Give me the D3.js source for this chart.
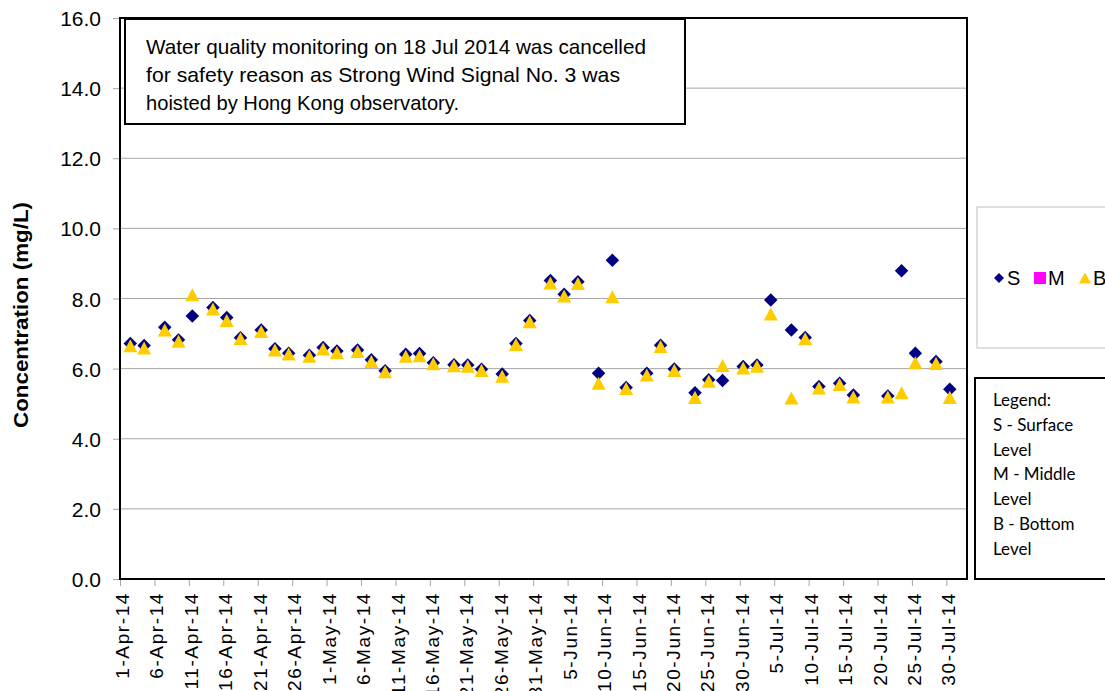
<!DOCTYPE html>
<html>
<head>
<meta charset="utf-8">
<script src="https://cdn.jsdelivr.net/npm/d3@7"></script>
<style>
  body { margin: 0; background: #fff; }
  svg { display: block; overflow: hidden; }
  text { font-family: "Liberation Sans", Arial, sans-serif; fill: #000; }
</style>
</head>
<body>
<svg id="chart" width="1105" height="691"></svg>
<script>
// sampling days (Mon / Wed / Fri), 18 Jul cancelled
var sampleDates = [
  "2014-04-02","2014-04-04","2014-04-07","2014-04-09","2014-04-11","2014-04-14","2014-04-16",
  "2014-04-18","2014-04-21","2014-04-23","2014-04-25","2014-04-28","2014-04-30",
  "2014-05-02","2014-05-05","2014-05-07","2014-05-09","2014-05-12","2014-05-14","2014-05-16",
  "2014-05-19","2014-05-21","2014-05-23","2014-05-26","2014-05-28","2014-05-30",
  "2014-06-02","2014-06-04","2014-06-06","2014-06-09","2014-06-11","2014-06-13","2014-06-16",
  "2014-06-18","2014-06-20","2014-06-23","2014-06-25","2014-06-27","2014-06-30",
  "2014-07-02","2014-07-04","2014-07-07","2014-07-09","2014-07-11","2014-07-14","2014-07-16",
  "2014-07-21","2014-07-23","2014-07-25","2014-07-28","2014-07-30"
];

// S - surface level
var surface = [
  6.72, 6.66, 7.18, 6.82, 7.50, 7.74, 7.46, 6.88, 7.10, 6.57, 6.44, 6.38, 6.60,
  6.50, 6.53, 6.25, 5.94, 6.41, 6.43, 6.17, 6.11, 6.10, 5.98, 5.85, 6.72, 7.37,
  8.51, 8.12, 8.48, 5.87, 9.09, 5.46, 5.87, 6.67, 5.99, 5.31, 5.68, 5.66, 6.06,
  6.10, 7.96, 7.10, 6.89, 5.49, 5.58, 5.25, 5.22, 8.79, 6.44, 6.20, 5.41
];

// M - middle level (no readings)
var middle = [];

// B - bottom level
var bottom = [
  6.65, 6.59, 7.10, 6.78, 8.11, 7.70, 7.37, 6.86, 7.06, 6.53, 6.42, 6.35, 6.56,
  6.46, 6.49, 6.20, 5.91, 6.35, 6.37, 6.14, 6.08, 6.07, 5.95, 5.78, 6.69, 7.34,
  8.44, 8.07, 8.43, 5.58, 8.05, 5.43, 5.82, 6.63, 5.95, 5.18, 5.64, 6.09, 6.02,
  6.07, 7.56, 5.16, 6.85, 5.45, 5.55, 5.19, 5.19, 5.31, 6.17, 6.15, 5.18
];

var xTickLabels = [
  "1-Apr-14","6-Apr-14","11-Apr-14","16-Apr-14","21-Apr-14","26-Apr-14",
  "1-May-14","6-May-14","11-May-14","16-May-14","21-May-14","26-May-14","31-May-14",
  "5-Jun-14","10-Jun-14","15-Jun-14","20-Jun-14","25-Jun-14","30-Jun-14",
  "5-Jul-14","10-Jul-14","15-Jul-14","20-Jul-14","25-Jul-14","30-Jul-14"
];
var yTicks = [0, 2, 4, 6, 8, 10, 12, 14, 16];

var noteLines = [
  "Water quality monitoring on 18 Jul 2014 was cancelled",
  "for safety reason as Strong Wind Signal No. 3 was",
  "hoisted by Hong Kong observatory."
];
var legendNotes = ["Legend:", "S - Surface", "Level", "M - Middle", "Level", "B - Bottom", "Level"];

var svg = d3.select("#chart");

// %%%%%%%%%%%%%%%%%%%%
// % Scales           %
// %%%%%%%%%%%%%%%%%%%%
var margin = {left: 120, top: 18},
    plotW = 847,
    plotH = 561;

var parseDay = d3.utcParse("%Y-%m-%d");
var parseTick = d3.utcParse("%d-%b-%y");

var x = d3.scaleUtc()
    .domain([Date.UTC(2014, 3, 1), Date.UTC(2014, 7, 2)])   // one slot per day
    .range([0, plotW]);
var y = d3.scaleLinear().domain([0, 16]).range([plotH, 0]);

// points sit in the middle of their day slot
var mid = function (s) { return d3.utcHour.offset(parseDay(s), 12); };

var g = svg.append("g").attr("transform", "translate(" + margin.left + "," + margin.top + ")");

// gridlines
g.append("g")
    .selectAll("line")
    .data(yTicks)
    .enter().append("line")
    .attr("x1", 0).attr("x2", plotW)
    .attr("y1", function (d) { return y(d); })
    .attr("y2", function (d) { return y(d); })
    .style("stroke", "#a6a6a6")
    .style("stroke-width", 1);

// y axis
var yAxis = g.append("g")
    .call(d3.axisLeft(y).tickValues(yTicks).tickFormat(d3.format(".1f")).tickSize(7).tickPadding(12));
yAxis.select(".domain").remove();
yAxis.selectAll("line").style("stroke", "#a6a6a6");
yAxis.selectAll("text").style("font-size", "21px").attr("dy", "0.36em");

// x axis
var xAxis = g.append("g")
    .attr("transform", "translate(0," + plotH + ")")
    .call(d3.axisBottom(x)
        .tickValues(xTickLabels.map(function (s) { return parseTick(s); }))
        .tickFormat(d3.utcFormat("%-d-%b-%y"))
        .tickSize(7));
xAxis.select(".domain").remove();
xAxis.selectAll("line").style("stroke", "#a6a6a6");
xAxis.selectAll("text")
    .style("font-size", "19px")
    .style("letter-spacing", "1.6px")
    .style("text-anchor", "end")
    .attr("transform", "rotate(-90)")
    .attr("x", -13)
    .attr("y", 0)
    .attr("dy", "0.45em");

// plot border
g.append("rect")
    .attr("width", plotW).attr("height", plotH)
    .style("fill", "none").style("stroke", "#000").style("stroke-width", 2);

// y title
svg.append("text")
    .attr("transform", "translate(28,315) rotate(-90)")
    .style("text-anchor", "middle")
    .style("font-size", "21px")
    .style("font-weight", "bold")
    .attr("textLength", 226)
    .attr("lengthAdjust", "spacingAndGlyphs")
    .text("Concentration (mg/L)");

// %%%%%%%%%%%%%%%%%%%%
// % Markers          %
// %%%%%%%%%%%%%%%%%%%%
var diamond = { draw: function (ctx, size) {
    var r = Math.sqrt(size) / 2;
    ctx.moveTo(0, -r); ctx.lineTo(r, 0); ctx.lineTo(0, r); ctx.lineTo(-r, 0); ctx.closePath();
}};
var triangle = { draw: function (ctx, size) {
    var w = Math.sqrt(size), h = w * 0.93;
    ctx.moveTo(0, -h / 2); ctx.lineTo(w / 2, h / 2); ctx.lineTo(-w / 2, h / 2); ctx.closePath();
}};
var square = { draw: function (ctx, size) {
    var r = Math.sqrt(size) / 2;
    ctx.rect(-r, -r, 2 * r, 2 * r);
}};

var series = [
  {name: "S", values: surface, color: "#000080", shape: diamond, size: 182},
  {name: "M", values: middle, color: "#ff00ff", shape: square, size: 110},
  {name: "B", values: bottom, color: "#ffcc00", shape: triangle, size: 196}
];

series.forEach(function (s) {
    g.append("g")
        .selectAll("path")
        .data(s.values)
        .enter().append("path")
        .attr("d", d3.symbol().type(s.shape).size(s.size))
        .attr("transform", function (d, i) {
            return "translate(" + x(mid(sampleDates[i])) + "," + y(d) + ")";
        })
        .style("fill", s.color);
});

// %%%%%%%%%%%%%%%%%%%%
// % Note box         %
// %%%%%%%%%%%%%%%%%%%%
svg.append("rect")
    .attr("x", 125).attr("y", 19).attr("width", 560).attr("height", 105)
    .style("fill", "#fff").style("stroke", "#000").style("stroke-width", 2);

var noteWidths = [500, 474, 313];
svg.append("g")
    .selectAll("text")
    .data(noteLines)
    .enter().append("text")
    .attr("x", 146)
    .attr("y", function (d, i) { return 54 + i * 28; })
    .attr("textLength", function (d, i) { return noteWidths[i]; })
    .attr("lengthAdjust", "spacingAndGlyphs")
    .style("font-size", "21px")
    .text(function (d) { return d; });

// %%%%%%%%%%%%%%%%%%%%
// % Legends          %
// %%%%%%%%%%%%%%%%%%%%
svg.append("rect")
    .attr("x", 977).attr("y", 207).attr("width", 140).attr("height", 141)
    .style("fill", "#fff").style("stroke", "#c0c0c0").style("stroke-width", 1);

var legendX = [999, 1040, 1085];
var legendSizes = [100, 144, 144];
var leg = svg.append("g")
    .selectAll("g")
    .data(series)
    .enter().append("g")
    .attr("transform", function (d, i) { return "translate(" + legendX[i] + ",278)"; });
leg.append("path")
    .attr("d", function (d, i) { return d3.symbol().type(d.shape).size(legendSizes[i])(); })
    .style("fill", function (d) { return d.color; });
leg.append("text")
    .attr("x", 8)
    .attr("dy", "0.36em")
    .style("font-size", "20px")
    .text(function (d) { return d.name; });

svg.append("rect")
    .attr("x", 975).attr("y", 378).attr("width", 140).attr("height", 201)
    .style("fill", "#fff").style("stroke", "#000").style("stroke-width", 2);

svg.append("g")
    .selectAll("text")
    .data(legendNotes)
    .enter().append("text")
    .attr("x", 993)
    .attr("y", function (d, i) { return 406 + i * 24.8; })
    .style("font-family", "Lato, 'Open Sans', sans-serif")
    .style("font-size", "17px")
    .text(function (d) { return d; });
</script>
</body>
</html>
